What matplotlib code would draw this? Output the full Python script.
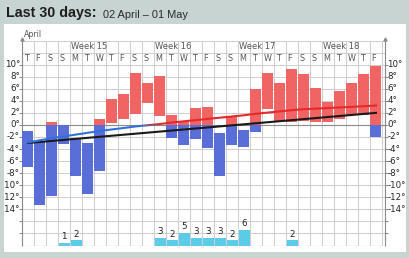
import numpy as np
import matplotlib
matplotlib.use('Agg')
import matplotlib.pyplot as plt
from matplotlib.patches import Rectangle
from matplotlib.transforms import Bbox, TransformedBbox

# daily data, 02 April - 01 May
day_letters = list('TFSSMTWTFSSMTWTFSSMTWTFSSMTWTF')
t_max = [-1.0, -2.7, 0.5, 0.0, -2.2, -3.0, 1.0, 4.3, 5.2, 8.6,
         6.9, 8.05, 1.6, 0.45, 2.75, 3.0, -1.3, 1.55, -0.8, 5.95,
         8.6, 6.95, 9.25, 8.4, 6.1, 3.8, 5.6, 7.0, 8.4, 9.8]
t_min = [-7.05, -13.3, -11.8, -3.1, -8.4, -11.4, -7.7, 0.4, 1.05, 1.8,
         3.6, 1.55, -2.1, -3.4, -2.3, -3.75, -8.4, -3.3, -3.6, -1.2,
         2.65, 0.7, 0.45, 0.7, 0.55, 0.55, 1.05, 1.65, 1.65, -2.05]
rain = [0, 0, 0, 1, 2, 0, 0, 0, 0, 0,
        0, 3, 2, 5, 3, 3, 3, 2, 6, 0,
        0, 0, 2, 0, 0, 0, 0, 0, 0, 0]
# running average (coloured) and normal (black) lines
avg_line = [-2.9, -2.55, -2.2, -1.9, -1.6, -1.3, -1.0, -0.75, -0.5, -0.25,
            -0.05, 0.15, 0.4, 0.6, 0.8, 1.0, 1.2, 1.4, 1.6, 1.85,
            2.05, 2.25, 2.45, 2.6, 2.7, 2.8, 2.9, 3.0, 3.1, 3.2]
normal_line = [-3.0, 2.0]
week_starts = [4, 11, 18, 25]
week_nums = [15, 16, 17, 18]
y_labels = list(range(-14, 11, 2))
y_ticks = list(range(-18, 11, 2))

RED = '#f06464'
BLUE = '#5a6ed7'
RAIN = '#5ccbe8'
GRID = '#cfcfcf'
AXIS = '#8a8a8a'
RAIN_SCALE = 0.42   # degrees per mm
W, H = 410, 258

fig = plt.figure(figsize=(W / 100, H / 100), dpi=100)
fig.patch.set_facecolor('#c8d4d2')

# white panel
px0, py0, px1, py1 = 4, 24, 406, 252
panel = Rectangle((px0 / W, 1 - py1 / H), (px1 - px0) / W, (py1 - py0) / H,
                  transform=fig.transFigure, facecolor='white', edgecolor='none', zorder=-5)
fig.patches.append(panel)
# labels get cut at the panel edges, like the original
left_clip = TransformedBbox(Bbox.from_bounds(5.2 / W, 0, 0.5, 1), fig.transFigure)
right_clip = TransformedBbox(Bbox.from_bounds(0.5, 0, (px1 - W / 2) / W, 1), fig.transFigure)

fig.text(6 / W, 1 - 17.5 / H, 'Last 30 days:', fontsize=10.3, fontweight='bold',
         family='Liberation Sans', color='#1e1e1e', va='baseline')
fig.text(103 / W, 1 - 17.5 / H, '02 April \u2013 01 May', fontsize=7.9,
         family='Liberation Sans', color='#2a2a2a', va='baseline')

ax = fig.add_axes([22 / W, 1 - 245.5 / H, 363 / W, 205 / H])
ax.set_zorder(5)
ax.set_xlim(0, 30.25)
ax.set_ylim(-20, 14)
ax.set_facecolor('none')
for s in ax.spines.values():
    s.set_visible(False)
ax.set_xticks([])
ax.set_yticks([])

# grid
ax.vlines(range(0, 31), -20, 14, color=GRID, lw=0.75, zorder=1)
ax.hlines([v for v in range(-18, 15, 2) if v != 0], 0, 30.25, color=GRID, lw=0.75, zorder=1)
ax.hlines([0, -20], 0, 30.25, color=AXIS, lw=0.8, zorder=1.5)
ax.vlines([0, 30.25], -20, 14.2, color=AXIS, lw=0.8, zorder=1.5, clip_on=False)
ax.plot([0, 30.25], [14.3, 14.3], ls='none', marker='^', ms=2.2, color=AXIS, clip_on=False)

# ticks both sides
tl = 3 / 12.0
ax.hlines(y_ticks, -tl, 0, color=AXIS, lw=0.75, clip_on=False)
ax.hlines(y_ticks, 30.25, 30.25 + tl, color=AXIS, lw=0.75, clip_on=False)
for v in y_labels:
    t = ax.text(-0.17, v, f'{v}°', ha='right', va='center', fontsize=6.2, color='#222222')
    t.set_clip_on(True)
    t.set_clip_box(left_clip)
    t = ax.text(30.25 + 0.2, v, f'{v}°', ha='left', va='center', fontsize=6.2, color='#222222')
    t.set_clip_on(True)
    t.set_clip_box(right_clip)

# header rows
for i, d in enumerate(day_letters):
    ax.text(i + 0.14, 11, d, ha='left', va='center', fontsize=5.8, color='#555555', zorder=4)
for s, n in zip(week_starts, week_nums):
    ax.text(s + 0.06, 13, f'Week {n}', ha='left', va='center', fontsize=6.0, color='#555555')
ax.text(0.15, 15.0, 'April', ha='left', va='center', fontsize=5.7, color='#555555', clip_on=False)

# temperature bars, red above zero, blue below
x = np.arange(len(t_max))
tmax = np.array(t_max)
tmin = np.array(t_min)
red_lo = np.maximum(tmin, 0)
red_hi = np.maximum(tmax, 0)
blue_lo = np.minimum(tmin, 0)
blue_hi = np.minimum(tmax, 0)
ax.bar(x + 0.04, red_hi - red_lo, bottom=red_lo, width=0.87, align='edge', color=RED, zorder=2)
ax.bar(x + 0.04, blue_hi - blue_lo, bottom=blue_lo, width=0.87, align='edge', color=BLUE, zorder=2)

# rain
rain = np.array(rain)
wet = rain > 0
ax.bar(x[wet] + 0.05, rain[wet] * RAIN_SCALE, bottom=-20, width=0.92, align='edge', color=RAIN, zorder=2)
for i in x[wet]:
    ax.text(i + 0.5, -20 + rain[i] * RAIN_SCALE + 0.3, str(rain[i]), ha='center', va='bottom',
            fontsize=6.3, color='#222222')

# lines
xc = x + 0.5
ax.plot([xc[0], xc[-1]], normal_line, color='#1a1a1a', lw=1.5, zorder=3)
warm = ax.plot(xc, avg_line, color='#e62a2a', lw=1.5, zorder=3.1)[0]
cold = ax.plot(xc, avg_line, color='#3270dc', lw=1.5, zorder=3.1)[0]
warm.set_clip_path(Rectangle((0, 0), 30.25, 14, transform=ax.transData))
cold.set_clip_path(Rectangle((0, -20), 30.25, 20, transform=ax.transData))

fig.savefig('out.png', dpi=100, facecolor=fig.get_facecolor())
